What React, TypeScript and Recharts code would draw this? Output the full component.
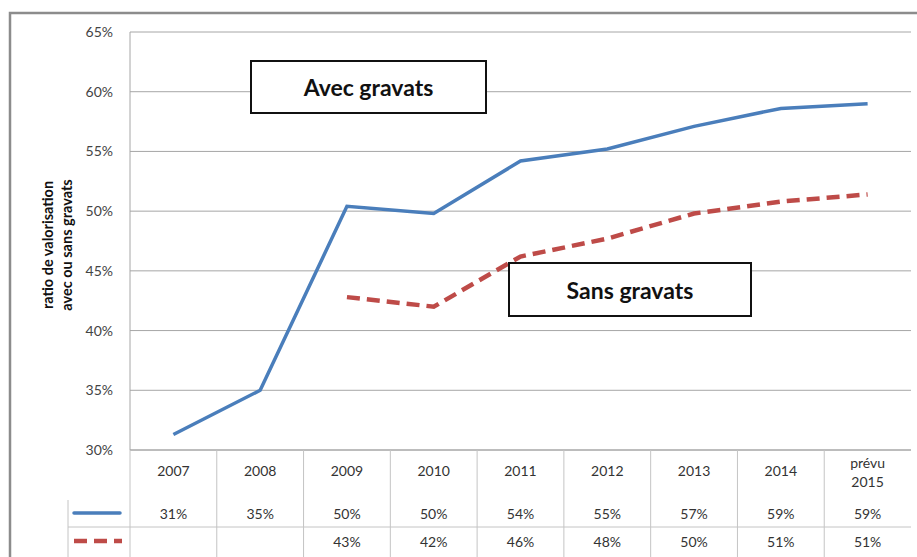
import { CartesianGrid, Line, LineChart, XAxis, YAxis } from 'recharts'

// categories and values
const years = ['2007', '2008', '2009', '2010', '2011', '2012', '2013', '2014', 'prévu 2015']
const avecGravats = [31.3, 35.0, 50.4, 49.8, 54.2, 55.2, 57.1, 58.6, 59.0]
const sansGravats = [null, null, 42.8, 42.0, 46.2, 47.7, 49.8, 50.8, 51.4]
const yTicks = [30, 35, 40, 45, 50, 55, 60, 65]

const BLUE = '#4a7ebb'
const RED = '#be4b48'
const FONT = 'Lato, "Open Sans", sans-serif'

const W = 917
const H = 557
const M = { top: 32, right: 6, bottom: 0, left: 0 }
const X_AXIS_H = 107
const Y_AXIS_W = 130
const band = (W - M.right - Y_AXIS_W) / years.length

const data = years.map((year, i) => ({
  year,
  avec: avecGravats[i],
  sans: sansGravats[i],
}))

const pct = (v: number | null) => (v == null ? '' : `${Math.round(v)}%`)

// each x tick draws one column of the data table under the plot
function TableTick(props: any) {
  const { x, y, payload } = props
  const i = payload.index
  const label: string = payload.value
  const parts = label.split(' ')
  return (
    <g fontFamily={FONT} fontSize={14} fill='#333'>
      <line x1={x - band / 2} x2={x - band / 2} y1={y} y2={y + 110} stroke='#c4c4c4' />
      <line x1={x - band / 2} x2={x + band / 2} y1={y + 77} y2={y + 77} stroke='#c4c4c4' />
      {parts.length === 1 ? (
        <text x={x} y={y + 20} textAnchor='middle' dominantBaseline='central'>
          {label}
        </text>
      ) : (
        <>
          <text x={x} y={y + 12} textAnchor='middle' dominantBaseline='central'>
            {parts[0]}
          </text>
          <text x={x} y={y + 31} textAnchor='middle' dominantBaseline='central'>
            {parts[1]}
          </text>
        </>
      )}
      <text x={x} y={y + 63} textAnchor='middle' dominantBaseline='central'>
        {pct(avecGravats[i])}
      </text>
      <text x={x} y={y + 91} textAnchor='middle' dominantBaseline='central'>
        {pct(sansGravats[i])}
      </text>
    </g>
  )
}

const boxStyle = {
  position: 'absolute' as const,
  background: '#fff',
  border: '2px solid #111',
  boxSizing: 'border-box' as const,
  display: 'flex',
  alignItems: 'center',
  justifyContent: 'center',
  fontFamily: FONT,
  fontWeight: 700,
  fontSize: 23,
  color: '#111',
}

export default function App() {
  return (
    <div style={{ position: 'absolute', left: 0, top: 0, width: W, height: H, overflow: 'hidden', background: '#fff' }}>
      <LineChart width={W} height={H} data={data} margin={M}>
        <CartesianGrid vertical={false} stroke='#a6a6a6' />
        <XAxis
          dataKey='year'
          scale='band'
          interval={0}
          tickSize={0}
          tickMargin={0}
          tickLine={false}
          height={X_AXIS_H}
          axisLine={{ stroke: '#a6a6a6' }}
          tick={<TableTick />}
        />
        <YAxis
          width={Y_AXIS_W}
          domain={[30, 65]}
          ticks={yTicks}
          tickFormatter={(v) => `${v}%`}
          tickLine={false}
          tickSize={0}
          tickMargin={17}
          axisLine={{ stroke: '#a6a6a6' }}
          tick={{ fontFamily: FONT, fontSize: 14, fill: '#444' }}
        />
        <Line
          dataKey='avec'
          stroke={BLUE}
          strokeWidth={3.5}
          dot={false}
          isAnimationActive={false}
        />
        <Line
          dataKey='sans'
          stroke={RED}
          strokeWidth={4.5}
          strokeDasharray='13 7'
          dot={false}
          connectNulls={false}
          isAnimationActive={false}
        />
      </LineChart>

      <svg width={W} height={H} style={{ position: 'absolute', left: 0, top: 0, pointerEvents: 'none' }}>
        {/* outer frame */}
        <rect x={10} y={13} width={W + 20} height={H + 20} fill='none' stroke='#8c8c8c' strokeWidth={2.5} />
        {/* y axis title */}
        <g fontFamily={FONT} fontSize={14.5} fontWeight={700} fill='#111' textAnchor='middle'>
          <text transform='translate(47,245) rotate(-90)' dominantBaseline='central'>
            ratio de valorisation
          </text>
          <text transform='translate(66,245) rotate(-90)' dominantBaseline='central'>
            avec ou sans gravats
          </text>
        </g>
        {/* legend column of the data table */}
        <line x1={68} x2={68} y1={500} y2={H} stroke='#c4c4c4' />
        <line x1={68} x2={130} y1={527} y2={527} stroke='#c4c4c4' />
        <line x1={74} x2={120} y1={513} y2={513} stroke={BLUE} strokeWidth={3.5} strokeLinecap='round' />
        <line x1={74} x2={122} y1={541} y2={541} stroke={RED} strokeWidth={4.5} strokeDasharray='13 7' />
      </svg>

      <div style={{ ...boxStyle, left: 250, top: 60, width: 237, height: 54 }}>Avec gravats</div>
      <div style={{ ...boxStyle, left: 508, top: 262, width: 244, height: 55 }}>Sans gravats</div>
    </div>
  )
}
